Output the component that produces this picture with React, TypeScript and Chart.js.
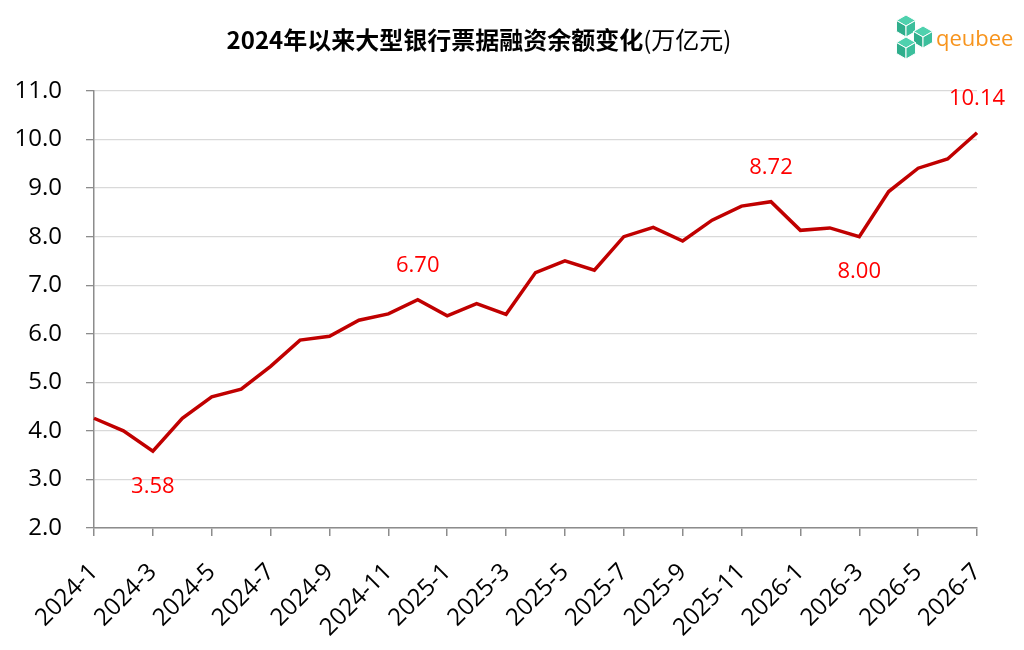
import { Chart, registerables } from "chart.js";
import { useEffect, useRef } from "react";

Chart.register(...registerables);

const months = [
  "2024-1", "2024-2", "2024-3", "2024-4", "2024-5", "2024-6", "2024-7", "2024-8",
  "2024-9", "2024-10", "2024-11", "2024-12", "2025-1", "2025-2", "2025-3", "2025-4",
  "2025-5", "2025-6", "2025-7", "2025-8", "2025-9", "2025-10", "2025-11", "2025-12",
  "2026-1", "2026-2", "2026-3", "2026-4", "2026-5", "2026-6", "2026-7",
];

// 大型银行票据融资余额 (万亿元)
const balance = [
  4.26, 4.0, 3.58, 4.26, 4.7, 4.86, 5.33, 5.87, 5.95, 6.28, 6.41, 6.7, 6.37, 6.62,
  6.4, 7.26, 7.5, 7.31, 8.0, 8.19, 7.91, 8.34, 8.63, 8.72, 8.13, 8.18, 8.0, 8.93,
  9.41, 9.6, 10.14,
];

// points that carry a value label, and on which side of the line
const labelIndices = [2, 11, 23, 26, 30];
const labelSides = ["below", "above", "above", "below", "above"];

const titleBold = "2024年以来大型银行票据融资余额变化";
const titleUnit = "(万亿元)";

const TICK_FONT = "'Open Sans', 'Noto Sans', sans-serif";
const CJK_FONT = "'Noto Sans CJK SC', sans-serif";

function drawCube(ctx: CanvasRenderingContext2D, cx: number, cy: number, r: number) {
  const dx = r * Math.cos(Math.PI / 6);
  const T = [cx, cy - r], UR = [cx + dx, cy - r / 2], LR = [cx + dx, cy + r / 2];
  const B = [cx, cy + r], LL = [cx - dx, cy + r / 2], UL = [cx - dx, cy - r / 2];
  const C = [cx, cy];
  const faces: [number[][], string][] = [
    [[C, UL, T, UR], "#4fd1ae"],
    [[C, UL, LL, B], "#2fae8c"],
    [[C, UR, LR, B], "#3cbf9c"],
  ];
  faces.forEach(([pts, color]) => {
    ctx.beginPath();
    ctx.moveTo(pts[0][0], pts[0][1]);
    pts.slice(1).forEach((p) => ctx.lineTo(p[0], p[1]));
    ctx.closePath();
    ctx.fillStyle = color;
    ctx.fill();
    ctx.strokeStyle = "#ffffff";
    ctx.lineWidth = 1;
    ctx.stroke();
  });
}

const decorations = {
  id: "decorations",
  afterDraw(chart: Chart) {
    const ctx = chart.ctx;
    ctx.save();

    // title, bold part + regular unit
    ctx.textBaseline = "middle";
    ctx.textAlign = "left";
    ctx.font = `bold 24px ${CJK_FONT}`;
    const wBold = ctx.measureText(titleBold).width;
    ctx.font = `24px ${CJK_FONT}`;
    const wUnit = ctx.measureText(titleUnit).width;
    const startX = 479 - (wBold + wUnit) / 2;
    ctx.fillStyle = "#000000";
    ctx.font = `bold 24px ${CJK_FONT}`;
    ctx.fillText(titleBold, startX, 40);
    ctx.font = `24px ${CJK_FONT}`;
    ctx.fillText(titleUnit, startX + wBold, 40);

    // logo
    drawCube(ctx, 906, 26, 11);
    drawCube(ctx, 923, 37, 11);
    drawCube(ctx, 906, 48, 11);
    ctx.font = `22px ${TICK_FONT}`;
    ctx.fillStyle = "#f7941d";
    ctx.textBaseline = "alphabetic";
    ctx.fillText("qeubee", 936, 46);

    // value labels
    const meta = chart.getDatasetMeta(0);
    ctx.font = `22px ${TICK_FONT}`;
    ctx.fillStyle = "#ff0000";
    ctx.textAlign = "center";
    ctx.textBaseline = "middle";
    labelIndices.forEach((idx, i) => {
      const pt = meta.data[idx];
      const offset = labelSides[i] === "above" ? -34 : 35;
      ctx.fillText(balance[idx].toFixed(2), pt.x, pt.y + offset);
    });

    ctx.restore();
  },
};

export default function App() {
  const canvasRef = useRef<HTMLCanvasElement>(null);
  const chartRef = useRef<Chart | null>(null);

  useEffect(() => {
    if (!canvasRef.current) return;
    if (chartRef.current) chartRef.current.destroy();

    chartRef.current = new Chart(canvasRef.current, {
      type: "line",
      data: {
        labels: months,
        datasets: [
          {
            label: "票据融资余额",
            data: balance,
            borderColor: "#c00000",
            borderWidth: 3.5,
            pointRadius: 0,
            tension: 0,
            fill: false,
          },
        ],
      },
      options: {
        animation: false,
        responsive: true,
        maintainAspectRatio: false,
        layout: { padding: { top: 91, right: 47, left: 0, bottom: 0 } },
        plugins: {
          legend: { display: false },
          tooltip: { enabled: false },
        },
        scales: {
          x: {
            offset: false,
            border: { color: "#8c8c8c", width: 1.5 },
            grid: {
              drawOnChartArea: false,
              color: "#8c8c8c",
              tickLength: 8,
              lineWidth: 1.5,
            },
            ticks: {
              autoSkip: false,
              minRotation: 45,
              maxRotation: 45,
              padding: 22,
              color: "#000000",
              font: { family: TICK_FONT, size: 24 },
              callback: (_v, idx) => (idx % 2 === 0 ? months[idx] : null),
            },
            afterFit: (scale) => {
              scale.height = 122;
            },
          },
          y: {
            min: 2,
            max: 11,
            border: { color: "#8c8c8c", width: 1.5 },
            grid: {
              color: "#d9d9d9",
              tickColor: "#8c8c8c",
              lineWidth: 1.3,
              tickLength: 8,
            },
            ticks: {
              stepSize: 1,
              color: "#000000",
              padding: 24,
              font: { family: TICK_FONT, size: 24 },
              callback: (v) => Number(v).toFixed(1),
            },
            afterFit: (scale) => {
              scale.width = 94;
            },
          },
        },
      },
      plugins: [decorations],
    });

    return () => {
      if (chartRef.current) {
        chartRef.current.destroy();
        chartRef.current = null;
      }
    };
  }, []);

  return (
    <div style={{ position: "absolute", left: 0, top: 0, width: 1024, height: 650, background: "#ffffff" }}>
      <canvas ref={canvasRef}></canvas>
    </div>
  );
}
